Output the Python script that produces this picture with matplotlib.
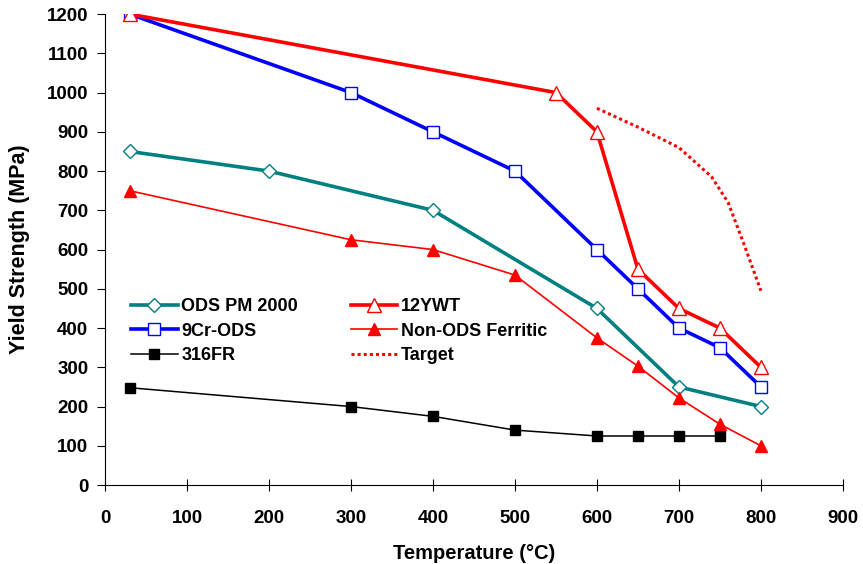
"""Yield strength vs temperature for ODS and reference steels."""
import matplotlib
matplotlib.use("Agg")
import matplotlib.pyplot as plt

plt.rcParams["font.family"] = ["Liberation Sans", "DejaVu Sans"]
plt.rcParams["font.weight"] = "bold"

# data
ods_t = [30, 200, 400, 600, 700, 800]
ods_ys = [850, 800, 700, 450, 250, 200]

ywt_t = [30, 550, 600, 650, 700, 750, 800]
ywt_ys = [1200, 1000, 900, 550, 450, 400, 300]

cr9_t = [30, 300, 400, 500, 600, 650, 700, 750, 800]
cr9_ys = [1200, 1000, 900, 800, 600, 500, 400, 350, 250]

nonods_t = [30, 300, 400, 500, 600, 650, 700, 750, 800]
nonods_ys = [750, 625, 600, 535, 375, 303, 222, 155, 100]

fr316_t = [30, 300, 400, 500, 600, 650, 700, 750]
fr316_ys = [248, 200, 175, 140, 125, 125, 125, 125]

target_t = [600, 650, 700, 740, 760, 780, 800]
target_ys = [960, 912, 860, 785, 720, 610, 495]

x_ticks = list(range(0, 901, 100))
y_ticks = list(range(0, 1201, 100))


def main():
    fig = plt.figure(figsize=(8.63, 5.64), dpi=100)
    ax = fig.add_axes([0.1217, 0.140, 0.855, 0.835])

    l_ods, = ax.plot(ods_t, ods_ys, color="#008080", lw=2.6, marker="D",
                     ms=7, mfc="white", mec="#008080", mew=1.0, label="ODS PM 2000")
    l_cr9, = ax.plot(cr9_t, cr9_ys, color="#0000ff", lw=2.6, marker="s",
                     ms=8, mfc="white", mec="#0000ff", mew=1.0, label="9Cr-ODS")
    l_316, = ax.plot(fr316_t, fr316_ys, color="black", lw=1.1, marker="s",
                     ms=7, mfc="black", mec="black", label="316FR")
    l_ywt, = ax.plot(ywt_t, ywt_ys, color="#ff0000", lw=2.6, marker="^",
                     ms=10, mfc="white", mec="#ff0000", mew=1.0, label="12YWT")
    l_non, = ax.plot(nonods_t, nonods_ys, color="#ff0000", lw=1.2, marker="^",
                     ms=8, mfc="#ff0000", mec="#ff0000", label="Non-ODS Ferritic")
    l_tgt, = ax.plot(target_t, target_ys, color="#ff0000", lw=2.2,
                     ls=(0, (1.0, 1.0)), label="Target")

    ax.set_xlim(0, 900)
    ax.set_ylim(0, 1200)
    ax.set_xticks(x_ticks)
    ax.set_yticks(y_ticks)
    ax.spines["top"].set_visible(False)
    ax.spines["right"].set_visible(False)
    ax.tick_params(axis="y", direction="out", length=6, labelsize=13.5, pad=6)
    ax.tick_params(axis="x", direction="inout", length=8, labelsize=13.5, pad=14)
    for lab in ax.get_xticklabels() + ax.get_yticklabels():
        lab.set_fontweight("bold")

    ax.set_xlabel("Temperature (°C)", fontsize=14.5, fontweight="bold", labelpad=12)
    ax.set_ylabel("Yield Strength (MPa)", fontsize=15.5, fontweight="bold", labelpad=12)

    ax.legend(handles=[l_ods, l_cr9, l_316, l_ywt, l_non, l_tgt], ncol=2,
              frameon=False, loc="lower left", bbox_to_anchor=(0.013, 0.222),
              prop={"weight": "bold", "size": 13}, handlelength=2.6,
              columnspacing=2.9, labelspacing=0.42, handletextpad=0.2)

    fig.savefig("out.png", dpi=100)


if __name__ == "__main__":
    main()
